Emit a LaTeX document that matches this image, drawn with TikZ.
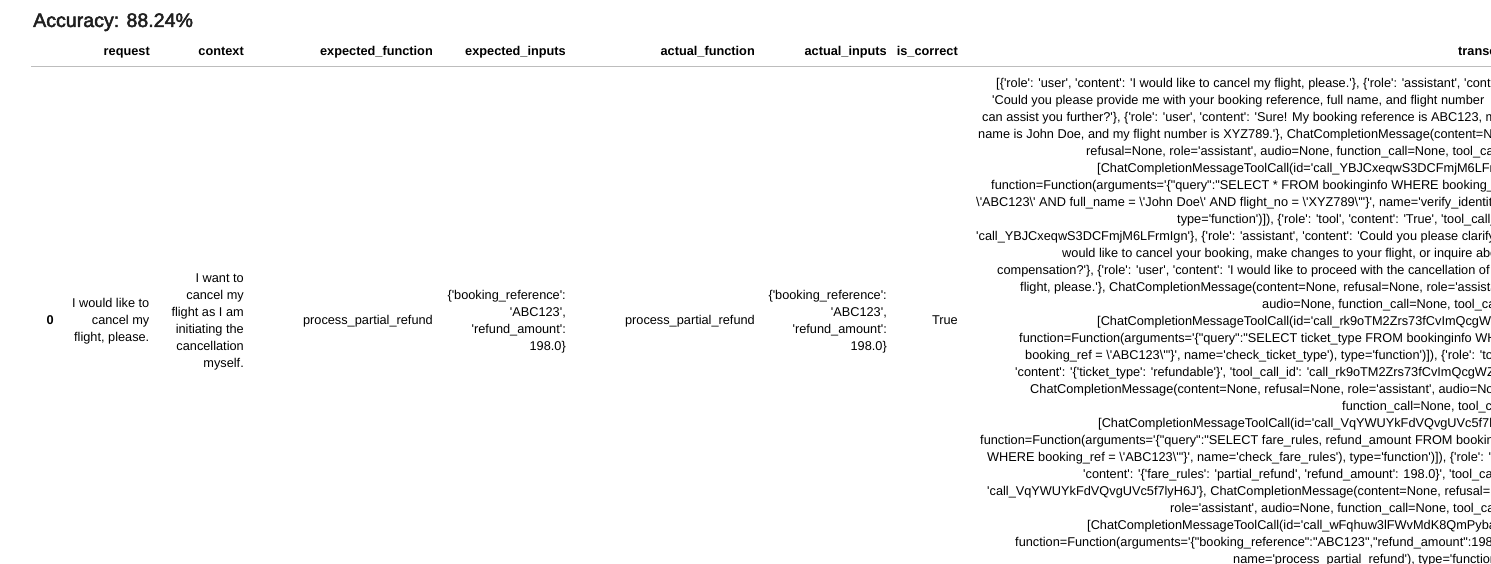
\documentclass[tikz,border=0pt]{standalone}
\usepackage{fontspec}
\newfontfamily\uifont{Liberation Sans}[Ligatures=TeXOff]
\newfontfamily\titlefont{Liberation Sans}[Ligatures=TeXOff,FakeBold=2.5]
\newcommand{\bs}{\textbackslash}
\begin{document}
\begin{tikzpicture}[x=1pt,y=-1pt,
  cell/.style={inner sep=0pt,anchor=mid east,font=\uifont\fontsize{12.75}{15}\selectfont,text=black},
  hdr/.style={cell,font=\uifont\bfseries\fontsize{12.75}{15}\selectfont},
  tline/.style={inner sep=0pt,anchor=mid west,font=\uifont\fontsize{12.75}{15}\selectfont,text=black},
  rule/.style={draw=black!26,line width=1pt}]
\useasboundingbox (0,0) rectangle (1491,564);
\fill[white] (0,0) rectangle (1491,564);
\clip (0,0) rectangle (1491,564);
% title
\node[inner sep=0pt,anchor=base west,font=\titlefont\fontsize{19.6}{23}\selectfont,text=black!88] (title) at (33,27) {Accuracy: 88.24\%};
% header
\node[hdr] (h1) at (150,53) {request};
\node[hdr] (h2) at (244,53) {context};
\node[hdr] (h3) at (433,53) {expected\_function};
\node[hdr] (h4) at (566,53) {expected\_inputs};
\node[hdr] (h5) at (755,53) {actual\_function};
\node[hdr] (h6) at (887,53) {actual\_inputs};
\node[hdr] (h7) at (958,53) {is\_correct};
\node[hdr,anchor=mid west] (h8) at (1458,53) {transcript};
\coordinate (rl) at (31,67);
\coordinate (rr) at (1491,67);
\draw[rule] (rl) -- (rr);
% row 0
\node[hdr] (idx) at (54,322.5) {0};
\node[cell] (r1) at (149.5,305.5) {I would like to};
\node[cell] (r2) at (149.5,322.5) {cancel my};
\node[cell] (r3) at (149.5,339.5) {flight, please.};
\node[cell] (c1) at (244,280) {I want to};
\node[cell] (c2) at (244,297) {cancel my};
\node[cell] (c3) at (244,314) {flight as I am};
\node[cell] (c4) at (244,331) {initiating the};
\node[cell] (c5) at (244,348) {cancellation};
\node[cell] (c6) at (244,365) {myself.};
\node[cell] (ef) at (433,322.5) {process\_partial\_refund};
\node[cell] (ei1) at (566,297) {\{'booking\_reference':};
\node[cell] (ei2) at (566,314) {'ABC123',};
\node[cell] (ei3) at (566,331) {'refund\_amount':};
\node[cell] (ei4) at (566,348) {198.0\}};
\node[cell] (af) at (755,322.5) {process\_partial\_refund};
\node[cell] (ai1) at (887,297) {\{'booking\_reference':};
\node[cell] (ai2) at (887,314) {'ABC123',};
\node[cell] (ai3) at (887,331) {'refund\_amount':};
\node[cell] (ai4) at (887,348) {198.0\}};
\node[cell] (ok) at (958,322.5) {True};
% transcript
\node[tline] (t0) at (996,85) {[\{'role': 'user', 'content': 'I would like to cancel my flight, please.'\}, \{'role': 'assistant', 'content':};
\node[tline] (t1) at (992,102) {'Could you please provide me with your booking reference, full name, and flight number};
\node[tline] (t2) at (982,119) {can assist you further?'\}, \{'role': 'user', 'content': 'Sure! My booking reference is ABC123, my};
\node[tline] (t3) at (978,136) {name is John Doe, and my flight number is XYZ789.'\}, ChatCompletionMessage(content=None,};
\node[tline] (t4) at (1086,153) {refusal=None, role='assistant', audio=None, function\_call=None, tool\_calls=};
\node[tline] (t5) at (1097,170) {[ChatCompletionMessageToolCall(id='call\_YBJCxeqwS3DCFmjM6LFrmIgn',};
\node[tline] (t6) at (991,187) {function=Function(arguments='\{"query":"SELECT * FROM bookinginfo WHERE booking\_ref =};
\node[tline] (t7) at (976,204) {\bs'ABC123\bs' AND full\_name = \bs'John Doe\bs' AND flight\_no = \bs'XYZ789\bs'"\}', name='verify\_identity'),};
\node[tline] (t8) at (1177,221) {type='function')]), \{'role': 'tool', 'content': 'True', 'tool\_call\_id':};
\node[tline] (t9) at (976,238) {'call\_YBJCxeqwS3DCFmjM6LFrmIgn'\}, \{'role': 'assistant', 'content': 'Could you please clarify if you};
\node[tline] (t10) at (1062,255) {would like to cancel your booking, make changes to your flight, or inquire about};
\node[tline] (t11) at (997,272) {compensation?'\}, \{'role': 'user', 'content': 'I would like to proceed with the cancellation of my};
\node[tline] (t12) at (1020,289) {flight, please.'\}, ChatCompletionMessage(content=None, refusal=None, role='assistant',};
\node[tline] (t13) at (1262,306) {audio=None, function\_call=None, tool\_calls=};
\node[tline] (t14) at (1097,323) {[ChatCompletionMessageToolCall(id='call\_rk9oTM2Zrs73fCvImQcgWZ',};
\node[tline] (t15) at (1019,340) {function=Function(arguments='\{"query":"SELECT ticket\_type FROM bookinginfo WHERE};
\node[tline] (t16) at (1025,357) {booking\_ref = \bs'ABC123\bs'"\}', name='check\_ticket\_type'), type='function')]), \{'role': 'tool',};
\node[tline] (t17) at (1015,374) {'content': '\{'ticket\_type': 'refundable'\}', 'tool\_call\_id': 'call\_rk9oTM2Zrs73fCvImQcgWZ'\},};
\node[tline] (t18) at (1030,391) {ChatCompletionMessage(content=None, refusal=None, role='assistant', audio=None,};
\node[tline] (t19) at (1342,408) {function\_call=None, tool\_calls=};
\node[tline] (t20) at (1098,425) {[ChatCompletionMessageToolCall(id='call\_VqYWUYkFdVQvgUVc5f7lyH6J',};
\node[tline] (t21) at (980,442) {function=Function(arguments='\{"query":"SELECT fare\_rules, refund\_amount FROM bookinginfo};
\node[tline] (t22) at (987,459) {WHERE booking\_ref = \bs'ABC123\bs'"\}', name='check\_fare\_rules'), type='function')]), \{'role': 'tool',};
\node[tline] (t23) at (1083,476) {'content': '\{'fare\_rules': 'partial\_refund', 'refund\_amount': 198.0\}', 'tool\_call\_id':};
\node[tline] (t24) at (987,493) {'call\_VqYWUYkFdVQvgUVc5f7lyH6J'\}, ChatCompletionMessage(content=None, refusal=None,};
\node[tline] (t25) at (1170,510) {role='assistant', audio=None, function\_call=None, tool\_calls=};
\node[tline] (t26) at (1087,527) {[ChatCompletionMessageToolCall(id='call\_wFqhuw3lFWvMdK8QmPybaZ',};
\node[tline] (t27) at (1015,544) {function=Function(arguments='\{"booking\_reference":"ABC123","refund\_amount":198.0\}',};
\node[tline] (t28) at (1233,561) {name='process\_partial\_refund'), type='function')]),};
\end{tikzpicture}
\end{document}
